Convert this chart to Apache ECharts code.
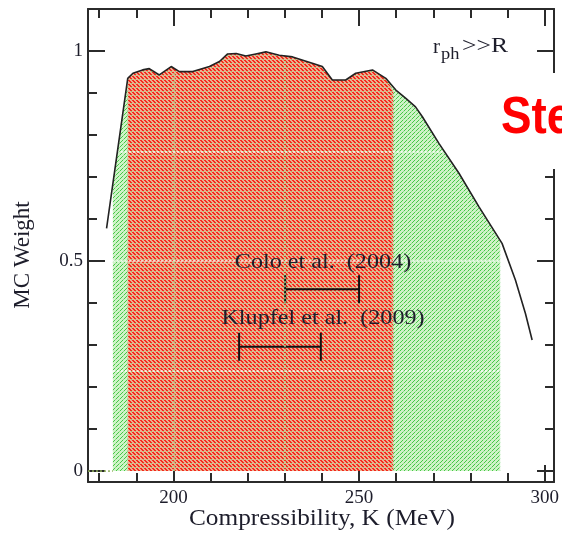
<!DOCTYPE html>
<html><head><meta charset="utf-8">
<script src="https://cdn.jsdelivr.net/npm/echarts@6/dist/echarts.min.js"></script>
<style>html,body{margin:0;padding:0;background:#fff}#c{width:562px;height:534px}</style>
</head><body><div id="c"></div>
<script>
// ---- data ----
const curveK = [182.0, 187.7, 189.1, 191.7, 193.5, 196.2, 199.4, 201.6, 205.2, 209.7, 212.4, 214.6, 216.9, 219.5, 222.2, 224.9, 228.5, 232.1, 237.4, 240.1, 242.8, 246.4, 249.1, 253.6, 257.2, 259.9, 262.6, 265.2, 267.0, 271.5, 276.9, 282.3, 288.5, 292.1, 294.8, 296.6];
const curveV = [0.578, 0.935, 0.947, 0.955, 0.958, 0.943, 0.963, 0.951, 0.951, 0.963, 0.975, 0.993, 0.994, 0.988, 0.993, 0.998, 0.990, 0.986, 0.971, 0.963, 0.931, 0.931, 0.947, 0.955, 0.935, 0.907, 0.887, 0.867, 0.844, 0.780, 0.709, 0.629, 0.542, 0.455, 0.375, 0.312];
const greenRange = [183.7, 288.0];
const greenEdgeV = [0.69, 0.546];
const redRange = [187.7, 259.2];
const redEdgeV = [0.935, 0.905];
const baselineK = [177, 183.7];
const xMajor = [200, 250, 300];
const xMinor = [180, 190, 210, 220, 230, 240, 260, 270, 280, 290];
const yMajor = [0, 0.5, 1];
const yMinor = [0.1, 0.2, 0.3, 0.4, 0.6, 0.7, 0.8, 0.9];
const refNames = ['Colo et al.  (2004)', 'Klupfel et al.  (2009)'];
const refLo = [230.1, 217.7];
const refHi = [250.0, 239.7];
const refV = [0.433, 0.296];
const guideH = [0.24, 0.5, 0.76];
const guideX = [200, 230];

// ---- helpers ----
function band(lo, hi, vLo, vHi) {
  const d = [[lo, 0], [lo, vLo]];
  curveK.forEach((k, i) => { if (k > lo && k < hi) d.push([k, curveV[i]]); });
  d.push([hi, vHi], [hi, 0]);
  return d;
}
function curveAt(k) {
  for (let i = 1; i < curveK.length; i++) {
    if (k <= curveK[i]) {
      const t = (k - curveK[i - 1]) / (curveK[i] - curveK[i - 1]);
      return curveV[i - 1] + t * (curveV[i] - curveV[i - 1]);
    }
  }
  return 0;
}
function tile(bg, fg, pts, extra) {
  const c = document.createElement('canvas');
  c.width = 4; c.height = 4;
  const g = c.getContext('2d');
  g.fillStyle = bg; g.fillRect(0, 0, 4, 4);
  g.fillStyle = fg; pts.forEach(p => g.fillRect(p[0], p[1], 1, 1));
  if (extra) { g.fillStyle = extra[0]; extra[1].forEach(p => g.fillRect(p[0], p[1], 1, 1)); }
  return c;
}
const redTile = tile('#eeae90', '#f42a1c', [[0,0],[1,0],[1,1],[2,1],[2,2],[3,2]], ['#86cf70', [[3,3]]]);
const greenTile = tile('#cff3c8', '#46c846', [[0,2],[1,1],[2,0]], ['#8edc86', [[3,3]]]);

const serif = '"Liberation Serif", "Times New Roman", serif';
const ink = '#1d1d2b';
const frame = { color: '#2b2b2b', width: 2 };

function xAxisDef(pos, major) {
  return {
    type: 'value', min: 177, max: 302.5, position: pos,
    axisLine: { show: major, lineStyle: frame, onZero: false },
    axisTick: { show: true, inside: true, length: major ? 17 : 9, customValues: major ? xMajor : xMinor, lineStyle: frame },
    axisLabel: { show: major && pos === 'bottom', customValues: xMajor, margin: 7, fontFamily: serif, fontSize: 19, color: ink },
    splitLine: { show: false }
  };
}
function yAxisDef(pos, major) {
  return {
    type: 'value', min: -0.026, max: 1.1, position: pos,
    axisLine: { show: major, lineStyle: frame, onZero: false },
    axisTick: { show: true, inside: true, length: major ? 17 : 9, customValues: major ? yMajor : yMinor, lineStyle: frame },
    axisLabel: { show: major && pos === 'left', customValues: yMajor, margin: 5, fontFamily: serif, fontSize: 19, color: ink,
      formatter: v => String(v) },
    splitLine: { show: false }
  };
}

const guideLines = guideH.map(h => [{ coord: [greenRange[0], h] }, { coord: [greenRange[1], h] }]);
const guideVLines = guideX.map(k => [{ coord: [k, 0] }, { coord: [k, curveAt(k) - 0.012] }]);

const chart = echarts.init(document.getElementById('c'), null, { renderer: 'canvas' });
chart.setOption({
  animation: false,
  backgroundColor: '#fff',
  grid: { left: 88, right: 7, top: 9, bottom: 52, containLabel: false },
  xAxis: [xAxisDef('bottom', true), xAxisDef('bottom', false), xAxisDef('top', true), xAxisDef('top', false)],
  yAxis: [yAxisDef('left', true), yAxisDef('left', false), yAxisDef('right', true), yAxisDef('right', false)],
  series: [
    { type: 'line', name: 'green', z: 1, symbol: 'none', data: band(greenRange[0], greenRange[1], greenEdgeV[0], greenEdgeV[1]),
      lineStyle: { width: 0 }, areaStyle: { origin: 0, color: { image: greenTile, repeat: 'repeat' }, opacity: 1 } },
    { type: 'line', name: 'red', z: 2, symbol: 'none', data: band(redRange[0], redRange[1], redEdgeV[0], redEdgeV[1]),
      lineStyle: { width: 0 }, areaStyle: { origin: 0, color: { image: redTile, repeat: 'repeat' }, opacity: 1 } },
    { type: 'line', name: 'guides', z: 3, symbol: 'none', data: [],
      markLine: { silent: true, symbol: 'none', label: { show: false },
        data: guideLines, lineStyle: { color: '#ffffff', type: [2, 2], width: 1.6, opacity: 0.9 } } },
    { type: 'line', name: 'guidesV', z: 3, symbol: 'none', data: [],
      markLine: { silent: true, symbol: 'none', label: { show: false },
        data: guideVLines, lineStyle: { color: '#a6e99a', type: [2, 2], width: 1.5, opacity: 0.9 } } },
    { type: 'line', name: 'base', z: 3, symbol: 'none', data: baselineK.map(k => [k, 0]),
      lineStyle: { color: '#8fae5a', width: 1.5, type: [2, 2] } },
    { type: 'custom', name: 'refs', z: 4,
      data: refLo.map((lo, i) => [lo, refHi[i], refV[i]]),
      encode: { x: [0, 1], y: 2 },
      renderItem: function (params, api) {
        const a = api.coord([api.value(0), api.value(2)]);
        const b = api.coord([api.value(1), api.value(2)]);
        const h = 14;
        const st = { stroke: '#111', lineWidth: 2 };
        return { type: 'group', children: [
          { type: 'line', shape: { x1: a[0], y1: a[1], x2: b[0], y2: b[1] }, style: st },
          { type: 'line', shape: { x1: a[0], y1: a[1] - h, x2: a[0], y2: a[1] + h }, style: st },
          { type: 'line', shape: { x1: b[0], y1: b[1] - h, x2: b[0], y2: b[1] + h }, style: st }
        ] };
      } },
    { type: 'line', name: 'MC', z: 5, symbol: 'none', data: curveK.map((k, i) => [k, curveV[i]]),
      lineStyle: { color: '#222', width: 1.6 } }
  ],
  graphic: [
    { type: 'text', z: 50, x: 323, y: 262, scaleX: 1.15, style: { text: refNames[0], font: '21px ' + serif, fill: ink, align: 'center', verticalAlign: 'middle' } },
    { type: 'text', z: 50, x: 323, y: 318, scaleX: 1.15, style: { text: refNames[1], font: '21px ' + serif, fill: ink, align: 'center', verticalAlign: 'middle' } },
    { type: 'text', z: 50, x: 322, y: 519, scaleX: 1.1, style: { text: 'Compressibility, K (MeV)', font: '23px ' + serif, fill: ink, align: 'center', verticalAlign: 'middle' } },
    { type: 'text', z: 50, x: 23, y: 255, rotation: Math.PI / 2, style: { text: 'MC Weight', font: '23px ' + serif, fill: ink, align: 'center', verticalAlign: 'middle' } },
    { type: 'text', z: 50, x: 433, y: 47, style: { text: 'r', font: '21px ' + serif, fill: ink, align: 'left', verticalAlign: 'middle' } },
    { type: 'text', z: 50, x: 441, y: 55, scaleX: 1.15, style: { text: 'ph', font: '16px ' + serif, fill: ink, align: 'left', verticalAlign: 'middle' } },
    { type: 'text', z: 50, x: 462, y: 46, scaleX: 1.22, style: { text: '>>R', font: '21px ' + serif, fill: ink, align: 'left', verticalAlign: 'middle' } },
    { type: 'rect', z: 100, shape: { x: 492, y: 73, width: 70, height: 96 }, style: { fill: '#ffffff' } },
    { type: 'text', z: 101, x: 501, y: 119, scaleX: 0.88, style: { text: 'Ste', font: 'bold 52px "Liberation Sans", Arial, sans-serif', fill: '#ff0000', align: 'left', verticalAlign: 'middle' } }
  ]
});
</script>
</body></html>
